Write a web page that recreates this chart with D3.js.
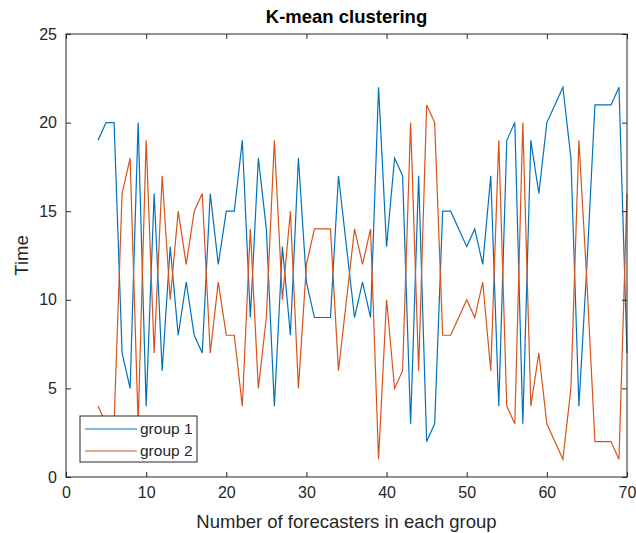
<!DOCTYPE html>
<html>
<head>
<meta charset="utf-8">
<script src="https://cdn.jsdelivr.net/npm/d3@7"></script>
<style>
  body { margin: 0; background: #fff; }
  svg { font-family: "Liberation Sans", Arial, sans-serif; }
</style>
</head>
<body>
<div class="chart"></div>
<script>
// forecasters per group (x)
const xs = d3.range(4, 71);
const group1 = [19, 20, 20, 7, 5, 20, 4, 16, 6, 13, 8, 11, 8, 7, 16, 12, 15, 15, 19, 9,
  18, 14, 4, 13, 8, 18, 11, 9, 9, 9, 17, 13, 9, 11, 9, 22, 13, 18, 17, 3,
  17, 2, 3, 15, 15, 14, 13, 14, 12, 17, 4, 19, 20, 3, 19, 16, 20, 21, 22, 18,
  4, 12, 21, 21, 21, 22, 7];
const group2 = [4, 3, 3, 16, 18, 3, 19, 7, 17, 10, 15, 12, 15, 16, 7, 11, 8, 8, 4, 14,
  5, 9, 19, 10, 15, 5, 12, 14, 14, 14, 6, 10, 14, 12, 14, 1, 10, 5, 6, 20,
  6, 21, 20, 8, 8, 9, 10, 9, 11, 6, 19, 4, 3, 20, 4, 7, 3, 2, 1, 5,
  19, 11, 2, 2, 2, 1, 16];
const xTicks = [0, 10, 20, 30, 40, 50, 60, 70];
const yTicks = [0, 5, 10, 15, 20, 25];

const W = 636, H = 533;
const mLeft = 66, mRight = 627, mTop = 34, mBottom = 477;
const axisCol = "#262626";

const svg = d3.select(".chart").append("svg")
  .attr("width", W).attr("height", H);

const x = d3.scaleLinear().domain([0, 70]).range([mLeft, mRight]);
const y = d3.scaleLinear().domain([0, 25]).range([mBottom, mTop]);

// series
const line = d3.line().x(d => x(d[0])).y(d => y(d[1]));
const series = [
  { name: "group 1", vals: group1, color: "#0072BD" },
  { name: "group 2", vals: group2, color: "#D95319" }
];
series.forEach(s => {
  svg.append("path")
    .datum(xs.map((v, i) => [v, s.vals[i]]))
    .attr("d", line)
    .attr("fill", "none")
    .attr("stroke", s.color)
    .attr("stroke-width", 1.2);
});

// axes (MATLAB style box with inward ticks)
const fmt = d3.format("d");
const styleAxis = g => {
  g.select(".domain").remove();
  g.selectAll("line").attr("stroke", axisCol);
  g.selectAll("text").attr("fill", axisCol).style("font-size", "16px");
};
svg.append("g").attr("transform", `translate(0,${mBottom})`)
  .call(d3.axisBottom(x).tickValues(xTicks).tickFormat(fmt).tickSizeInner(-5).tickSizeOuter(0).tickPadding(10))
  .call(styleAxis);
svg.append("g").attr("transform", `translate(0,${mTop})`)
  .call(d3.axisTop(x).tickValues(xTicks).tickFormat("").tickSizeInner(-5).tickSizeOuter(0))
  .call(styleAxis);
svg.append("g").attr("transform", `translate(${mLeft},0)`)
  .call(d3.axisLeft(y).tickValues(yTicks).tickFormat(fmt).tickSizeInner(-5).tickSizeOuter(0).tickPadding(9))
  .call(styleAxis);
svg.append("g").attr("transform", `translate(${mRight},0)`)
  .call(d3.axisRight(y).tickValues(yTicks).tickFormat("").tickSizeInner(-5).tickSizeOuter(0))
  .call(styleAxis);

svg.append("rect")
  .attr("x", mLeft).attr("y", mTop)
  .attr("width", mRight - mLeft).attr("height", mBottom - mTop)
  .attr("fill", "none").attr("stroke", axisCol).attr("stroke-width", 1);

// labels
svg.append("text")
  .attr("x", (mLeft + mRight) / 2).attr("y", 23)
  .attr("text-anchor", "middle")
  .style("font-size", "18.5px").style("font-weight", "bold")
  .attr("fill", "#000")
  .text("K-mean clustering");

svg.append("text")
  .attr("x", (mLeft + mRight) / 2).attr("y", 528)
  .attr("text-anchor", "middle")
  .style("font-size", "18.5px")
  .attr("fill", axisCol)
  .text("Number of forecasters in each group");

svg.append("text")
  .attr("transform", `translate(28,${(mTop + mBottom) / 2}) rotate(-90)`)
  .attr("text-anchor", "middle")
  .style("font-size", "18.5px")
  .attr("fill", axisCol)
  .text("Time");

// legend
const lg = svg.append("g").attr("transform", "translate(80,416)");
lg.append("rect")
  .attr("width", 117).attr("height", 46)
  .attr("fill", "#fff").attr("stroke", axisCol).attr("stroke-width", 1);
series.forEach((s, i) => {
  const yy = 13 + i * 22;
  lg.append("line")
    .attr("x1", 5).attr("x2", 57).attr("y1", yy).attr("y2", yy)
    .attr("stroke", s.color).attr("stroke-width", 1.2);
  lg.append("text")
    .attr("x", 60).attr("y", yy + 5)
    .style("font-size", "15.5px").attr("fill", axisCol)
    .text(s.name);
});
</script>
</body>
</html>
